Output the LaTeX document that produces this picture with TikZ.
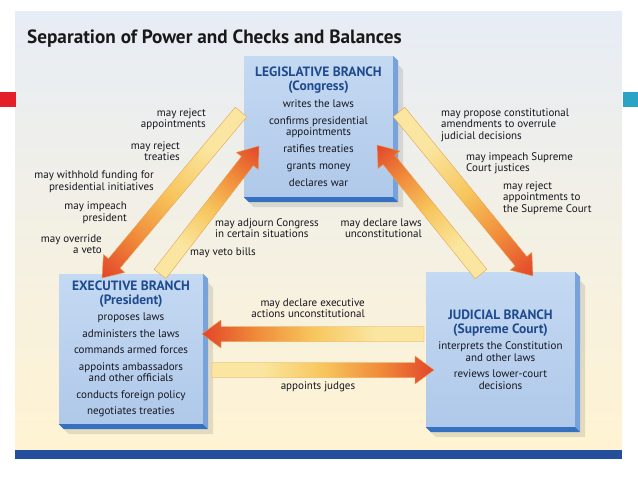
\documentclass[tikz,border=0pt]{standalone}
\usepackage{fontspec}
\setmainfont{PT Sans}
\usepackage{xcolor}
\usetikzlibrary{calc}
\definecolor{panelblue}{HTML}{E7EDF6}
\definecolor{panelmid}{HTML}{FAF8EE}
\definecolor{panelcream}{HTML}{FFF3D2}
\definecolor{bandblue}{HTML}{234F9C}
\definecolor{tabred}{HTML}{E3202A}
\definecolor{tabteal}{HTML}{2AA3C4}
\definecolor{facetop}{HTML}{C4D9F2}
\definecolor{facebot}{HTML}{B0C9EA}
\definecolor{bevelside}{HTML}{78A3DA}
\definecolor{bevelbase}{HTML}{3670C0}
\definecolor{headblue}{HTML}{1F4B8E}
\definecolor{inktext}{HTML}{16161E}
\definecolor{arrpale}{HTML}{FAE6A0}
\definecolor{arryellow}{HTML}{F7C65C}
\definecolor{arrorange}{HTML}{F08A3A}
\definecolor{arrred}{HTML}{E2452A}
\definecolor{arredge}{HTML}{E6A452}

\pgfdeclarehorizontalshading{checkshade}{100bp}{color(0bp)=(arrpale); color(25bp)=(arrpale); color(36bp)=(arrpale); color(50bp)=(arryellow); color(63bp)=(arrorange); color(75bp)=(arrred); color(100bp)=(arrred)}

\newcommand\hd[1]{{\fontsize{13.5}{14}\selectfont\bfseries\color{headblue}#1}}
\newcommand\checkarrow[2]{%
  \pgfpointdiff{\pgfpointanchor{#1}{center}}{\pgfpointanchor{#2}{center}}%
  \pgfgetlastxy{\arrdx}{\arrdy}%
  \pgfmathsetmacro\arrang{atan2(\arrdy,\arrdx)}%
  \pgfmathsetmacro\arrlen{veclen(\arrdx,\arrdy)}%
  \begin{scope}[transform canvas={shift={(#1)},rotate=\arrang}]
    \shade[shading=checkshade,draw=arredge,line width=0.4pt,line join=round]
      (0pt,7.5pt) -- ({\arrlen pt-19pt},7.5pt) -- ({\arrlen pt-19pt},14pt) -- ({\arrlen pt},0pt)
      -- ({\arrlen pt-19pt},-14pt) -- ({\arrlen pt-19pt},-7.5pt) -- (0pt,-7.5pt) -- cycle;
  \end{scope}}

\begin{document}
\begin{tikzpicture}[x=1pt,y=-1pt,
  branch/.style={rectangle,top color=facetop,bottom color=facebot,inner sep=0pt,align=center,text=inktext,font=\fontsize{11}{11.5}\selectfont},
  lbl/.style={inner sep=0pt,text=inktext,font=\fontsize{11}{11.5}\selectfont}]
  \useasboundingbox (0,0) rectangle (638,479);
  \shade[top color=panelblue,middle color=panelmid,bottom color=panelcream] (15,11) rectangle (622,450);
  \fill[bandblue] (15,450) rectangle (622,459);
  \fill[tabred] (0,92) rectangle (16,107);
  \fill[tabteal] (623,92) rectangle (638,107);
  \node[anchor=base west,inner sep=0pt,font=\fontsize{19.2}{21}\selectfont\bfseries,text=black!90] (title) at (27,43) {Separation of Power and Checks and Balances};

  \node[branch,minimum width=149pt,minimum height=141pt] (leg) at (318.5,126.5) {\hd{LEGISLATIVE BRANCH}\\[3pt]\hd{(Congress)}\\[5pt]writes the laws\\[5.5pt]confirms presidential\\appointments\\[5.5pt]ratifies treaties\\[5.5pt]grants money\\[5.5pt]declares war};
  \node[branch,minimum width=144pt,minimum height=150pt] (exe) at (131,349) {\hd{EXECUTIVE BRANCH}\\[2pt]\hd{(President)}\\[5pt]proposes laws\\[5pt]administers the laws\\[5pt]commands armed forces\\[5pt]appoints ambassadors\\and other officials\\[5pt]conducts foreign policy\\[5pt]negotiates treaties};
  \node[branch,minimum width=149pt,minimum height=155pt] (jud) at (500.5,349.5) {\hd{JUDICIAL BRANCH}\\[2pt]\hd{(Supreme Court)}\\[5pt]interprets the Constitution\\and other laws\\[5pt]reviews lower-court\\decisions};
  \foreach \b in {leg,exe,jud}{
    \fill[black,opacity=.10] ($(\b.north east)+(5,9)$) -- ($(\b.north east)+(10,14)$) -- ($(\b.south east)+(10,10)$) -- ($(\b.south west)+(10,10)$) -- ($(\b.south west)+(5,5)$) -- ($(\b.south east)+(5,5)$) -- cycle;
    \fill[bevelside] (\b.north east) -- ($(\b.north east)+(5,5)$) -- ($(\b.south east)+(5,5)$) -- (\b.south east) -- cycle;
    \fill[bevelbase] (\b.south west) -- (\b.south east) -- ($(\b.south east)+(5,5)$) -- ($(\b.south west)+(5,5)$) -- cycle;
  }

  \coordinate (le-tail) at (241,112);
  \coordinate (le-tip) at (102,278);
  \coordinate (el-tail) at (160,274);
  \coordinate (el-tip) at (259,146);
  \coordinate (lj-tail) at (399,112);
  \coordinate (lj-tip) at (533,276);
  \coordinate (jl-tail) at (481,274);
  \coordinate (jl-tip) at (377,145);
  \coordinate (je-tail) at (424,334);
  \coordinate (je-tip) at (202,334);
  \coordinate (ej-tail) at (212,370);
  \coordinate (ej-tip) at (434,370);
  \checkarrow{le-tail}{le-tip}
  \checkarrow{el-tail}{el-tip}
  \checkarrow{lj-tail}{lj-tip}
  \checkarrow{jl-tail}{jl-tip}
  \checkarrow{je-tail}{je-tip}
  \checkarrow{ej-tail}{ej-tip}

  \node[lbl,anchor=east,align=right] (rej-app) at (206,119) {may reject\\appointments};
  \node[lbl,anchor=east,align=right] (rej-tre) at (180,151) {may reject\\treaties};
  \node[lbl,anchor=east,align=right] (withhold) at (154,181.5) {may withhold funding for\\presidential initiatives};
  \node[lbl,anchor=east,align=right] (imp-pres) at (127,212.5) {may impeach\\president};
  \node[lbl,anchor=east,align=right] (override) at (102,244) {may override\\a veto};
  \node[lbl,anchor=west,align=left] (adjourn) at (215,228) {may adjourn Congress\\in certain situations};
  \node[lbl,anchor=east,align=right] (decl-laws) at (422,228) {may declare laws\\unconstitutional};
  \node[lbl,anchor=west] (veto) at (190,253) {may veto bills};
  \node[lbl,anchor=west,align=left] (amend) at (441,125) {may propose constitutional\\amendments to overrule\\judicial decisions};
  \node[lbl,anchor=west,align=left] (imp-just) at (466,163) {may impeach Supreme\\Court justices};
  \node[lbl,anchor=west,align=left] (rej-court) at (503,198) {may reject\\appointments to\\the Supreme Court};
  \node[lbl,anchor=east,align=right] (decl-exec) at (365,308) {may declare executive\\actions unconstitutional};
  \node[lbl] (judges) at (318,387) {appoints judges};
\end{tikzpicture}
\end{document}
